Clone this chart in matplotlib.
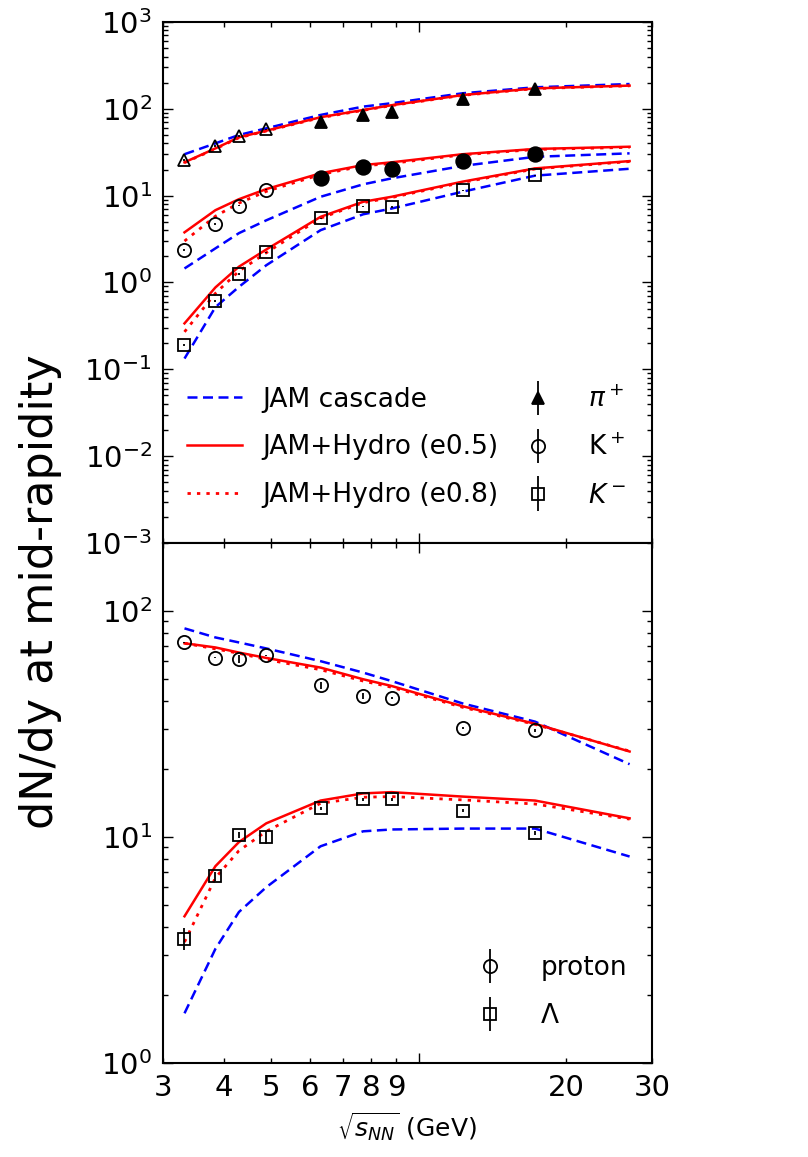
import matplotlib
matplotlib.use("Agg")
import matplotlib.pyplot as plt
from matplotlib.ticker import LogLocator, NullFormatter, FixedLocator, FixedFormatter
from matplotlib.legend_handler import HandlerErrorbar

plt.rcParams["font.family"] = "DejaVu Sans"
plt.rcParams["mathtext.fontset"] = "dejavusans"

# collision energies (GeV)
sqrt_s = [3.32, 3.84, 4.29, 4.88, 6.3, 7.7, 8.8, 12.3, 17.3]
sqrt_s_model = [3.32, 3.84, 4.29, 4.88, 6.3, 7.7, 8.8, 12.3, 17.3, 27.0]
n_ags = 4  # first four energies: open symbols, the rest filled

# measured dN/dy
pip_data = [25.7, 37.3, 48.6, 58.0, 71.0, 85.0, 92.6, 130.0, 168.0]
pip_err = [0.5, 0.7, 1.0, 1.2, 1.5, 1.5, 1.8, 2.5, 3.0]
kp_data = [2.36, 4.71, 7.65, 11.7, 16.1, 21.2, 20.1, 24.8, 29.9]
kp_err = [0.05, 0.1, 0.15, 0.2, 0.3, 0.4, 0.4, 0.4, 0.5]
km_data = [0.19, 0.615, 1.25, 2.22, 5.47, 7.53, 7.4, 11.5, 17.1]
km_err = [0.005, 0.015, 0.03, 0.05, 0.1, 0.15, 0.15, 0.2, 0.3]
p_data = [72.6, 62.2, 61.2, 63.7, 46.9, 42.0, 41.3, 30.4, 29.7]
p_err = [0.5, 0.3, 2.5, 0.3, 1.5, 1.2, 0.5, 0.3, 0.4]
lam_data = [3.55, 6.7, 10.2, 9.98, 13.4, 14.7, 14.7, 13.1, 10.4]
lam_err = [0.4, 0.3, 0.3, 0.7, 0.2, 0.2, 0.2, 0.2, 0.2]

# JAM cascade
pip_casc = [30.0, 40.0, 50.0, 59.6, 85.0, 106.0, 116.0, 151.0, 177.0, 193.0]
kp_casc = [1.45, 2.47, 3.7, 5.2, 9.7, 13.5, 15.8, 22.0, 28.0, 30.7]
km_casc = [0.133, 0.52, 0.89, 1.58, 4.0, 6.1, 7.1, 11.1, 17.0, 20.4]
p_casc = [83.8, 76.4, 72.6, 68.3, 60.0, 53.4, 49.0, 39.0, 32.4, 21.0]
lam_casc = [1.66, 3.2, 4.66, 6.0, 9.1, 10.6, 10.8, 10.9, 10.9, 8.2]

# JAM+Hydro, e0.5
pip_h05 = [24.2, 35.0, 47.0, 56.0, 80.0, 97.0, 110.0, 144.0, 172.0, 185.0]
kp_h05 = [3.78, 6.8, 9.1, 11.9, 18.1, 22.5, 24.2, 30.0, 34.5, 36.6]
km_h05 = [0.338, 0.877, 1.52, 2.4, 5.7, 8.5, 9.7, 14.5, 20.6, 25.0]
p_h05 = [72.0, 69.0, 65.5, 62.0, 56.2, 49.9, 46.6, 37.9, 31.7, 23.9]
lam_h05 = [4.46, 7.43, 9.5, 11.5, 14.5, 15.6, 15.8, 15.1, 14.5, 12.1]

# JAM+Hydro, e0.8
pip_h08 = [24.0, 34.5, 46.5, 55.5, 79.0, 96.0, 109.0, 143.0, 171.0, 184.0]
kp_h08 = [3.0, 5.8, 8.2, 11.2, 17.5, 22.0, 23.5, 29.5, 34.0, 36.0]
km_h08 = [0.27, 0.75, 1.35, 2.2, 5.5, 8.3, 9.5, 14.2, 20.3, 24.7]
p_h08 = [72.0, 68.0, 65.0, 61.0, 55.0, 49.0, 46.0, 37.5, 31.5, 24.0]
lam_h08 = [3.43, 6.6, 8.7, 10.6, 14.1, 15.0, 15.1, 14.6, 14.0, 12.0]

LW = 1.8


def model_lines(ax, casc, h05, h08, label=False):
    ax.plot(sqrt_s_model, casc, color="b", lw=LW, dashes=(4, 2.2),
            label="JAM cascade" if label else None)
    ax.plot(sqrt_s_model, h05, color="r", lw=LW,
            label="JAM+Hydro (e0.5)" if label else None)
    ax.plot(sqrt_s_model, h08, color="r", lw=2.0, dashes=(1.2, 2.2),
            label="JAM+Hydro (e0.8)" if label else None)


def points(ax, x, y, err, marker, filled, ms):
    return ax.errorbar(x, y, yerr=err, fmt=marker, ms=ms,
                       mfc="k" if filled else "none", mec="k", mew=1.3,
                       ecolor="k", elinewidth=1.3, capsize=0, zorder=5)


fig = plt.figure(figsize=(8.08, 11.57), dpi=100)
ax1 = fig.add_axes([0.2017, 0.5307, 0.6052, 0.4503])
ax2 = fig.add_axes([0.2017, 0.0812, 0.6052, 0.4495], sharex=ax1)

# --- mesons ---
model_lines(ax1, pip_casc, pip_h05, pip_h08, label=True)
model_lines(ax1, kp_casc, kp_h05, kp_h08)
model_lines(ax1, km_casc, km_h05, km_h08)

points(ax1, sqrt_s[:n_ags], pip_data[:n_ags], pip_err[:n_ags], "^", False, 9)
h_pip = points(ax1, sqrt_s[n_ags:], pip_data[n_ags:], pip_err[n_ags:], "^", True, 9)
h_kp = points(ax1, sqrt_s[:n_ags], kp_data[:n_ags], kp_err[:n_ags], "o", False, 9.5)
points(ax1, sqrt_s[n_ags:], kp_data[n_ags:], kp_err[n_ags:], "o", True, 10.5)
h_km = points(ax1, sqrt_s, km_data, km_err, "s", False, 8)

# --- baryons ---
model_lines(ax2, p_casc, p_h05, p_h08)
model_lines(ax2, lam_casc, lam_h05, lam_h08)
h_p = points(ax2, sqrt_s, p_data, p_err, "o", False, 9.5)
h_lam = points(ax2, sqrt_s, lam_data, lam_err, "s", False, 8)

for ax in (ax1, ax2):
    ax.set_xscale("log")
    ax.set_yscale("log")
    ax.tick_params(which="both", direction="in", top=True, right=True,
                   labelsize=21, width=1.0)
    ax.tick_params(which="major", length=7, pad=8)
    ax.tick_params(which="minor", length=3.5, pad=8)
    for sp in ax.spines.values():
        sp.set_linewidth(1.5)
    ax.yaxis.set_major_locator(LogLocator(base=10, numticks=12))
    ax.yaxis.set_minor_locator(LogLocator(base=10, subs=range(2, 10), numticks=12))
    ax.yaxis.set_minor_formatter(NullFormatter())

ax1.set_xlim(3, 30)
ax1.set_ylim(1e-3, 1e3)
ax2.set_ylim(1, 200)

xminor = [3, 4, 5, 6, 7, 8, 9, 20, 30]
ax2.xaxis.set_major_locator(FixedLocator([10]))
ax2.xaxis.set_major_formatter(FixedFormatter([""]))
ax2.xaxis.set_minor_locator(FixedLocator(xminor))
ax2.xaxis.set_minor_formatter(FixedFormatter([str(v) for v in xminor]))
ax1.tick_params(axis="x", which="both", labelbottom=False)

ax2.set_xlabel(r"$\sqrt{s_{NN}}$ (GeV)", fontsize=18, labelpad=6)
fig.text(0.05, 0.489, "dN/dy at mid-rapidity", rotation=90,
         fontsize=32, ha="center", va="center")

hmap = {h: HandlerErrorbar(yerr_size=0.65) for h in (h_pip, h_kp, h_km, h_p, h_lam)}

leg_kw = dict(frameon=False, fontsize=19, labelspacing=0.82,
              borderpad=0, borderaxespad=0, loc="upper left")
leg_lines = ax1.legend(bbox_to_anchor=(0.049, 0.300), handlelength=2.1,
                       handletextpad=0.75, **leg_kw)
ax1.add_artist(leg_lines)
ax1.legend([h_pip, h_kp, h_km], [r"$\pi^+$", r"K$^+$", r"$K^-$"],
           handler_map=hmap, bbox_to_anchor=(0.74, 0.300),
           handlelength=1.0, numpoints=1, handletextpad=1.4, **leg_kw)
ax2.legend([h_p, h_lam], ["proton", r"$\Lambda$"], handler_map=hmap,
           bbox_to_anchor=(0.642, 0.207),
           handlelength=1.0, numpoints=1, handletextpad=1.4, **leg_kw)

fig.savefig("out.png", dpi=100)
